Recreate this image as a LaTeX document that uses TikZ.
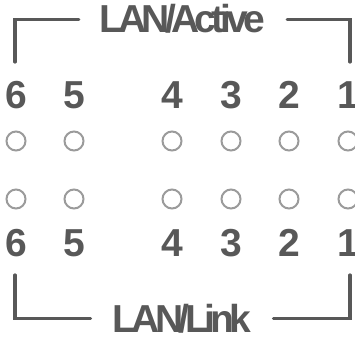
\documentclass[tikz,border=0pt]{standalone}
\usepackage{fontspec}
\setmainfont{Liberation Sans}
\newfontfamily\tightfont[LetterSpace=-12]{Liberation Sans}
\usetikzlibrary{positioning}
\definecolor{ledgrey}{RGB}{155,155,155}
\definecolor{labelgrey}{RGB}{88,88,88}

\begin{document}
\begin{tikzpicture}[x=1pt, y=-1pt,
  port/.style={font=\fontsize{39}{39}\selectfont\bfseries, text=labelgrey,
               anchor=base, inner sep=0pt},
  led/.style={circle, draw=ledgrey, line width=2pt,
              minimum size=19pt, inner sep=0pt},
  heading/.style={font=\tightfont\fontsize{39}{39}\selectfont\bfseries,
                  text=labelgrey, anchor=base, inner sep=0pt},
  bracket/.style={draw=labelgrey, line width=3.2pt, line cap=round}]

  \useasboundingbox (0,0) rectangle (355,337);

  \node[heading] (active) at (182,33) {LAN/Active};
  \node[heading] (link)   at (182,332) {LAN/Link};

  % port numbers and the two rows of LEDs
  \foreach \n/\x in {6/16,5/74,4/172,3/231,2/289,1/348} {
    \node[port] (top\n) at (\x,108) {\n};
    \node[led] (act\n) at (\x,141) {};
    \node[led] (lnk\n) at (\x,199) {};
    \node[port] (bot\n) at (\x,256) {\n};
  }

  % brackets round the titles
  \draw[bracket] (15,62) |- ([xshift=-20pt]active.west);
  \draw[bracket] ([xshift=22pt]active.east) -| (350,62);
  \draw[bracket] (15,275) |- ([xshift=-22pt]link.west);
  \draw[bracket] ([xshift=22pt]link.east) -| (350,275);
\end{tikzpicture}
\end{document}
